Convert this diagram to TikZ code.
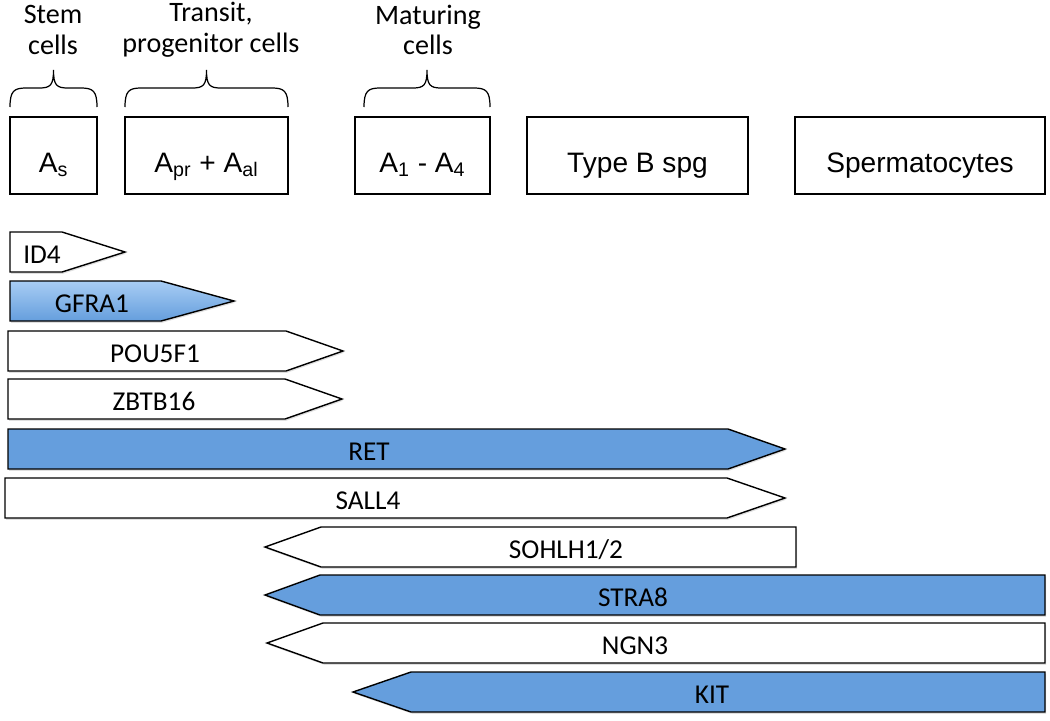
\documentclass[tikz,border=0pt]{standalone}
\usepackage{fontspec}
\setmainfont{Carlito}
\newfontfamily\cellfont{Liberation Sans}
\usetikzlibrary{shadows}
\definecolor{geneblue}{RGB}{101,158,221}
\definecolor{genelight}{RGB}{168,205,244}

\begin{document}
\begin{tikzpicture}[
    x=0.02cm, y=-0.02cm,
    line width=0.8pt,
    cell/.style={draw,rectangle,inner sep=0pt,minimum height=1.54cm,text height=19pt,text depth=0pt,
      font=\cellfont\fontsize{16}{19}\selectfont},
    stage/.style={align=center,font=\fontsize{16}{17.5}\selectfont},
    gene/.style={inner sep=0pt,text height=13.4pt,text depth=0pt,font=\fontsize{15.5}{18}\selectfont},
    barshadow/.style={drop shadow={shadow xshift=0.6pt,shadow yshift=-1pt,opacity=0.25}},
    plainbar/.style={draw,fill=white,barshadow},
    bluebar/.style={draw,fill=geneblue,barshadow},
    shadebar/.style={draw,top color=genelight,bottom color=geneblue,barshadow},
    cellbrace/.style={draw,line width=0.7pt}]
  \useasboundingbox (0,0) rectangle (1050,720);
  % stage labels and braces
  \node[stage] (stem) at (53,30) {Stem\\cells};
  \node[stage] (transit) at (211,30) {Transit,\\progenitor cells};
  \node[stage] (maturing) at (428,30) {Maturing\\cells};
  \foreach \a/\m/\b in {10/53.5/97, 125/206.5/288, 364/427/490}
    \path[cellbrace] (\a,107) .. controls (\a,91) and (\a+4,88) .. (\a+16,88)
      -- (\m-14,88) .. controls (\m-3,88) and (\m,85) .. (\m,70)
      .. controls (\m,85) and (\m+3,88) .. (\m+14,88)
      -- (\b-16,88) .. controls (\b-4,88) and (\b,91) .. (\b,107);
  % cell types
  \node[cell,minimum width=1.74cm] (as) at (53.5,155.5) {A\textsubscript{s}};
  \node[cell,minimum width=3.26cm] (apr) at (206.5,155.5) {A\textsubscript{pr} + A\textsubscript{al}};
  \node[cell,minimum width=2.70cm] (a14) at (422.5,155.5) {A\textsubscript{1} - A\textsubscript{4}};
  \node[cell,minimum width=4.42cm] (typeb) at (637.5,155.5) {Type B spg};
  \node[cell,minimum width=5.00cm] (spc) at (920,155.5) {Spermatocytes};
  % markers pointing right
  \foreach \n/\y/\l/\s/\t/\c/\tx/\lab in {id4/232/10/62/125/plainbar/42/ID4,
      gfra1/281/10/161/234/shadebar/92/GFRA1, pou5f1/331/8/286/343/plainbar/155/POU5F1,
      zbtb16/379/8/285/342/plainbar/154/ZBTB16, ret/429/8/728/785/bluebar/369/RET,
      sall4/478/5/727/785/plainbar/368/SALL4} {
    \path[\c] (\l,\y) -- (\s,\y) -- (\t,\y+20) -- (\s,\y+40) -- (\l,\y+40) -- cycle;
    \node[gene] (\n) at (\tx,\y+20) {\lab};
  }
  % markers pointing left
  \foreach \n/\y/\t/\s/\r/\c/\tx/\lab in {sohlh/527/265/321/796/plainbar/566/{SOHLH1/2},
      stra8/575/265/320/1045/bluebar/633/STRA8, ngn3/623/267/323/1045/plainbar/635/NGN3,
      kit/672/353/411/1045/bluebar/712/KIT} {
    \path[\c] (\t,\y+20) -- (\s,\y) -- (\r,\y) -- (\r,\y+40) -- (\s,\y+40) -- cycle;
    \node[gene] (\n) at (\tx,\y+20) {\lab};
  }
\end{tikzpicture}
\end{document}
